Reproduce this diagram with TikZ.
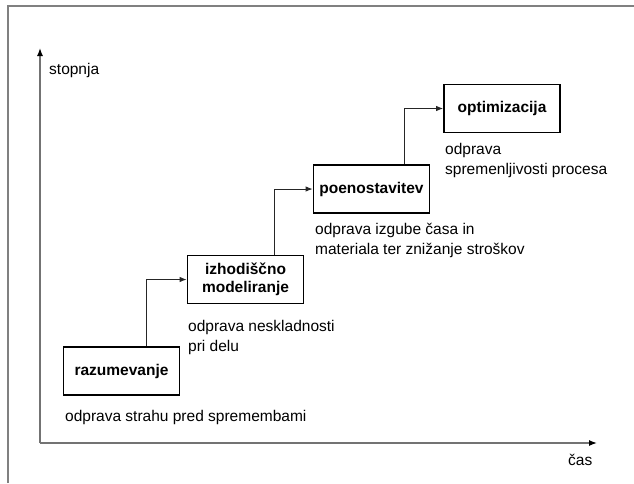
\documentclass[tikz,border=0pt]{standalone}
\usepackage{fontspec}
\setmainfont{Liberation Sans}
\usetikzlibrary{arrows.meta}
\begin{document}
\begin{tikzpicture}[x=1pt,y=-1pt,
  stepbox/.style={draw, line width=1.8pt, minimum width=116pt, minimum height=48pt, inner sep=2pt, align=center, font=\fontsize{15.5}{18.5}\selectfont\bfseries},
  lbl/.style={anchor=base west, inner sep=0pt, align=left, font=\fontsize{15.5}{20}\selectfont},
  conn/.style={draw=black!85, line width=0.9pt, -{Latex[length=7pt,width=5.5pt]}},
  axis/.style={draw=black!55, line width=1.3pt, -{Latex[length=8pt,width=6pt,black]}},
  frame/.style={draw=black!50, line width=1.2pt},
]
\useasboundingbox (0,0) rectangle (634,483);
\draw[frame] (8,483) -- (8,6) -- (634,6);

\coordinate (O) at (40,443);
\coordinate (Y) at (40,48);
\coordinate (X) at (597,443);
\draw[axis] (O) -- (Y);
\draw[axis] (O) -- (X);

\node[lbl] (ys) at (49,74) {stopnja};
\node[lbl] (xs) at (568,465) {čas};

\node[stepbox] (raz) at (121.5,371) {razumevanje};
\node[stepbox] (izh) at (245.5,279.5) {izhodiščno\\modeliranje};
\node[stepbox] (poe) at (371.5,189) {poenostavitev};
\node[stepbox] (opt) at (502,108.5) {optimizacija};

\draw[conn] ([xshift=24.5pt]raz.north) |- (izh.west);
\draw[conn] ([xshift=28.5pt]izh.north) |- (poe.west);
\draw[conn] ([xshift=32.5pt]poe.north) |- (opt.west);

\node[lbl] (l1) at (65,421) {odprava strahu pred spremembami};
\node[lbl] (l2) at (188,351) {odprava neskladnosti\\pri delu};
\node[lbl] (l3) at (315,254) {odprava izgube časa in\\materiala ter znižanje stroškov};
\node[lbl] (l4) at (445,174) {odprava\\spremenljivosti procesa};
\end{tikzpicture}
\end{document}
